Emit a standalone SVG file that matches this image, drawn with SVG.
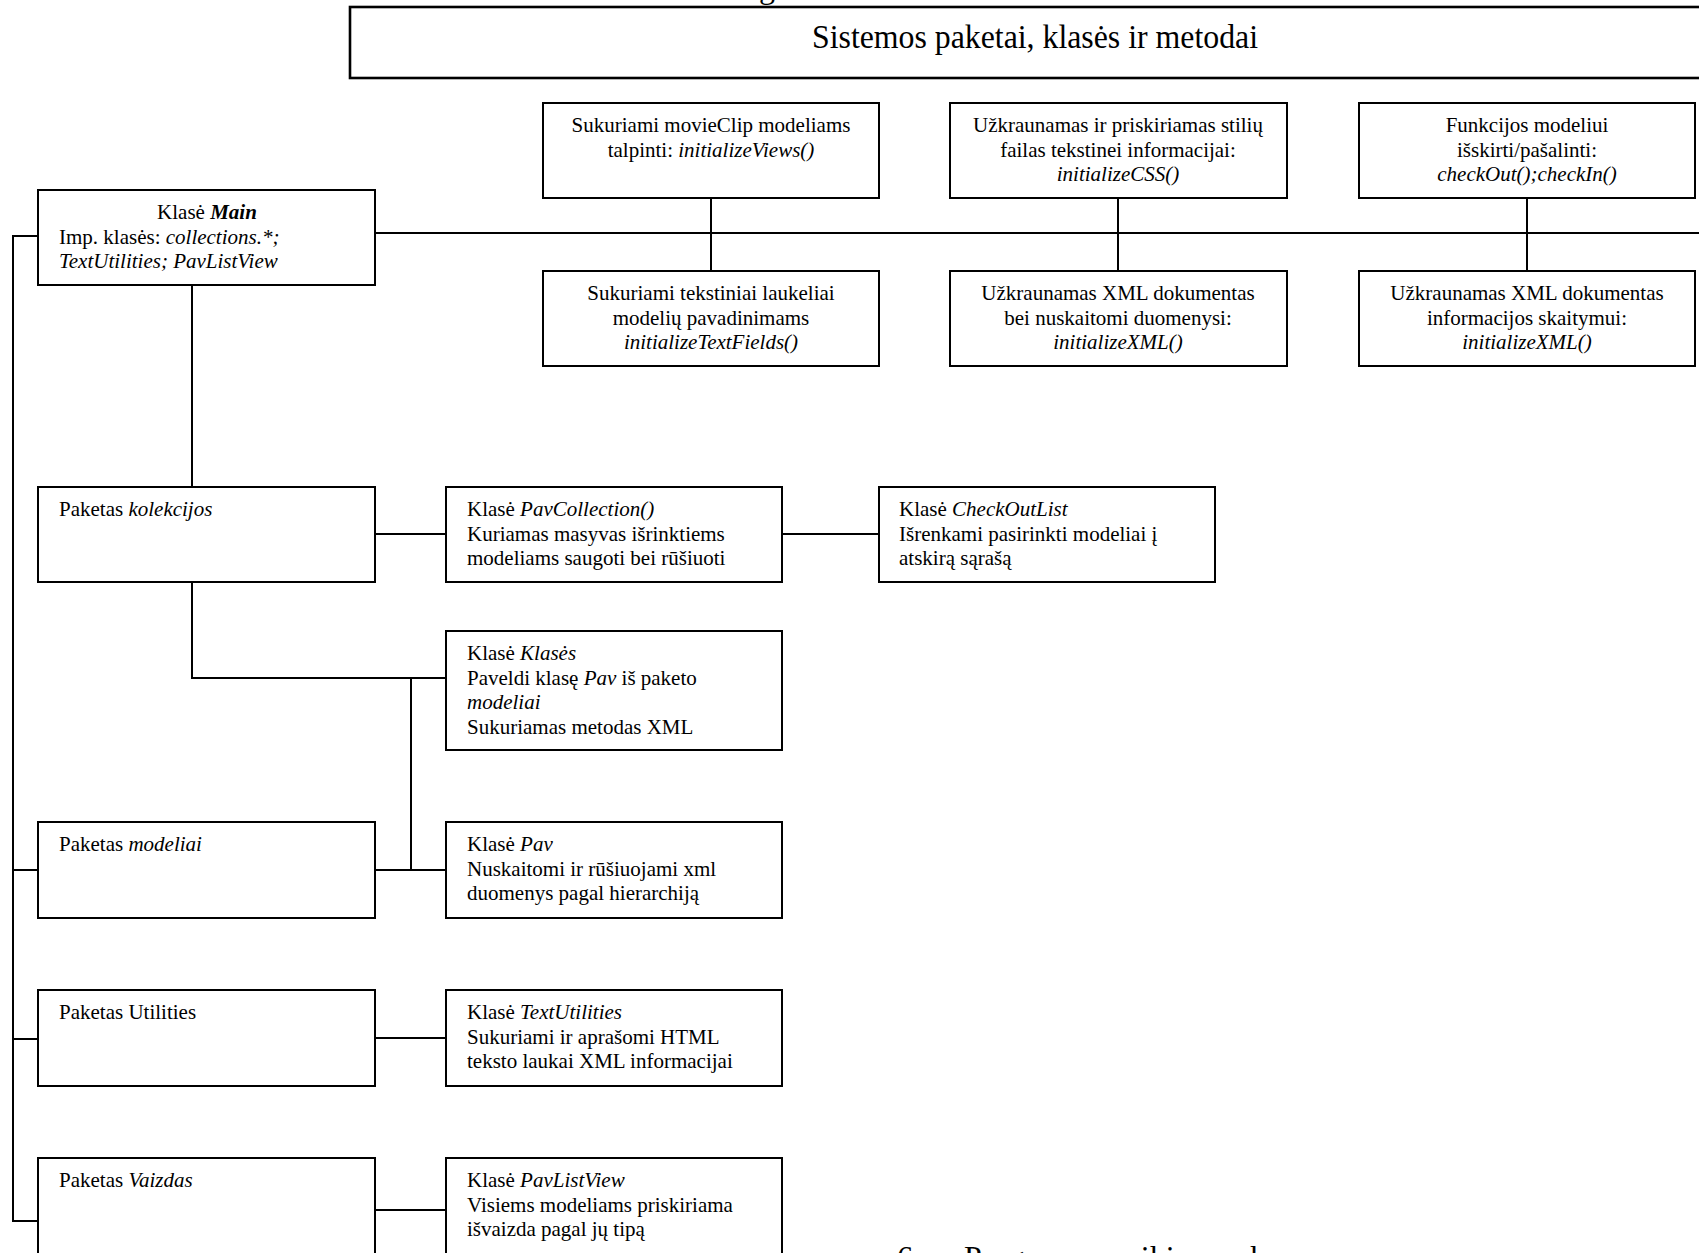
<svg xmlns="http://www.w3.org/2000/svg" width="1699" height="1253" viewBox="0 0 1699 1253">
<style>
  text { font-family: "Liberation Serif", "Times New Roman", serif; font-size: 21px; fill: #000; }
  .box { fill: #fff; stroke: #000; stroke-width: 2; }
  .title-box { fill: #fff; stroke: #000; stroke-width: 2.6; }
  .c { text-anchor: middle; }
  .i { font-style: italic; }
  .bi { font-style: italic; font-weight: bold; }
  .conn { fill: none; stroke: #000; stroke-width: 2; }
  .title { font-size: 33px; text-anchor: middle; }
</style>
<rect width="1699" height="1253" fill="#fff"/>

<text x="767" y="-2" style="font-size:32px" text-anchor="middle">g</text>

<g id="connectors">
  <line class="conn" x1="375" y1="233" x2="1710" y2="233" stroke-width="1.6"/>
  <line class="conn" x1="711" y1="198" x2="711" y2="271"/>
  <line class="conn" x1="1118" y1="198" x2="1118" y2="271"/>
  <line class="conn" x1="1527" y1="198" x2="1527" y2="271"/>
  <polyline class="conn" points="38,236 13,236 13,1221 38,1221"/>
  <line class="conn" x1="13" y1="870" x2="38" y2="870"/>
  <line class="conn" x1="13" y1="1039" x2="38" y2="1039"/>
  <line class="conn" x1="192" y1="285" x2="192" y2="487"/>
  <line class="conn" x1="375" y1="534" x2="446" y2="534"/>
  <line class="conn" x1="782" y1="534" x2="879" y2="534"/>
  <polyline class="conn" points="192,582 192,678 446,678"/>
  <line class="conn" x1="411" y1="678" x2="411" y2="870"/>
  <line class="conn" x1="375" y1="870" x2="446" y2="870"/>
  <line class="conn" x1="375" y1="1038" x2="446" y2="1038"/>
  <line class="conn" x1="375" y1="1210" x2="446" y2="1210"/>
</g>

<g id="title">
  <rect class="title-box" x="350" y="7" width="1360" height="71"/>
  <text class="title" x="1035" y="48" textLength="446" lengthAdjust="spacingAndGlyphs">Sistemos paketai, klasės ir metodai</text>
</g>

<g id="node-initViews">
  <rect class="box" x="543" y="103" width="336" height="95"/>
  <text class="c" x="711" y="132">Sukuriami movieClip modeliams</text>
  <text class="c" x="711" y="156.5">talpinti: <tspan class="i">initializeViews()</tspan></text>
</g>
<g id="node-initCSS">
  <rect class="box" x="950" y="103" width="337" height="95"/>
  <text class="c" x="1118" y="132">Užkraunamas ir priskiriamas stilių</text>
  <text class="c" x="1118" y="156.5">failas tekstinei informacijai:</text>
  <text class="c i" x="1118" y="181">initializeCSS()</text>
</g>
<g id="node-checkOut">
  <rect class="box" x="1359" y="103" width="336" height="95"/>
  <text class="c" x="1527" y="132">Funkcijos modeliui</text>
  <text class="c" x="1527" y="156.5">išskirti/pašalinti:</text>
  <text class="c i" x="1527" y="181">checkOut();checkIn()</text>
</g>
<g id="node-initTextFields">
  <rect class="box" x="543" y="271" width="336" height="95"/>
  <text class="c" x="711" y="300">Sukuriami tekstiniai laukeliai</text>
  <text class="c" x="711" y="324.5">modelių pavadinimams</text>
  <text class="c i" x="711" y="349">initializeTextFields()</text>
</g>
<g id="node-initXML1">
  <rect class="box" x="950" y="271" width="337" height="95"/>
  <text class="c" x="1118" y="300">Užkraunamas XML dokumentas</text>
  <text class="c" x="1118" y="324.5">bei nuskaitomi duomenysi:</text>
  <text class="c i" x="1118" y="349">initializeXML()</text>
</g>
<g id="node-initXML2">
  <rect class="box" x="1359" y="271" width="336" height="95"/>
  <text class="c" x="1527" y="300">Užkraunamas XML dokumentas</text>
  <text class="c" x="1527" y="324.5">informacijos skaitymui:</text>
  <text class="c i" x="1527" y="349">initializeXML()</text>
</g>

<g id="node-main">
  <rect class="box" x="38" y="190" width="337" height="95"/>
  <text class="c" x="207" y="219">Klasė <tspan class="bi">Main</tspan></text>
  <text x="59" y="243.5">Imp. klasės: <tspan class="i">collections.*;</tspan></text>
  <text class="i" x="59" y="268">TextUtilities; PavListView</text>
</g>

<g id="node-kolekcijos">
  <rect class="box" x="38" y="487" width="337" height="95"/>
  <text x="59" y="516">Paketas <tspan class="i">kolekcijos</tspan></text>
</g>
<g id="node-pavCollection">
  <rect class="box" x="446" y="487" width="336" height="95"/>
  <text x="467" y="516">Klasė <tspan class="i">PavCollection()</tspan></text>
  <text x="467" y="540.5">Kuriamas masyvas išrinktiems</text>
  <text x="467" y="565">modeliams saugoti bei rūšiuoti</text>
</g>
<g id="node-checkOutList">
  <rect class="box" x="879" y="487" width="336" height="95"/>
  <text x="899" y="516">Klasė <tspan class="i">CheckOutList</tspan></text>
  <text x="899" y="540.5">Išrenkami pasirinkti modeliai į</text>
  <text x="899" y="565">atskirą sąrašą</text>
</g>
<g id="node-klases">
  <rect class="box" x="446" y="631" width="336" height="119"/>
  <text x="467" y="660">Klasė <tspan class="i">Klasės</tspan></text>
  <text x="467" y="684.5">Paveldi klasę <tspan class="i">Pav</tspan> iš paketo</text>
  <text class="i" x="467" y="709">modeliai</text>
  <text x="467" y="733.5">Sukuriamas metodas XML</text>
</g>
<g id="node-modeliai">
  <rect class="box" x="38" y="822" width="337" height="96"/>
  <text x="59" y="851">Paketas <tspan class="i">modeliai</tspan></text>
</g>
<g id="node-pav">
  <rect class="box" x="446" y="822" width="336" height="96"/>
  <text x="467" y="851">Klasė <tspan class="i">Pav</tspan></text>
  <text x="467" y="875.5">Nuskaitomi ir rūšiuojami xml</text>
  <text x="467" y="900">duomenys pagal hierarchiją</text>
</g>
<g id="node-utilities">
  <rect class="box" x="38" y="990" width="337" height="96"/>
  <text x="59" y="1019">Paketas Utilities</text>
</g>
<g id="node-textUtilities">
  <rect class="box" x="446" y="990" width="336" height="96"/>
  <text x="467" y="1019">Klasė <tspan class="i">TextUtilities</tspan></text>
  <text x="467" y="1043.5">Sukuriami ir aprašomi HTML</text>
  <text x="467" y="1068">teksto laukai XML informacijai</text>
</g>
<g id="node-vaizdas">
  <rect class="box" x="38" y="1158" width="337" height="110"/>
  <text x="59" y="1187">Paketas <tspan class="i">Vaizdas</tspan></text>
</g>
<g id="node-pavListView">
  <rect class="box" x="446" y="1158" width="336" height="110"/>
  <text x="467" y="1187">Klasė <tspan class="i">PavListView</tspan></text>
  <text x="467" y="1211.5">Visiems modeliams priskiriama</text>
  <text x="467" y="1236">išvaizda pagal jų tipą</text>
</g>

<text x="897" y="1268" style="font-size:32px">6.<tspan x="964">Programos veikimo schema</tspan></text>
</svg>
